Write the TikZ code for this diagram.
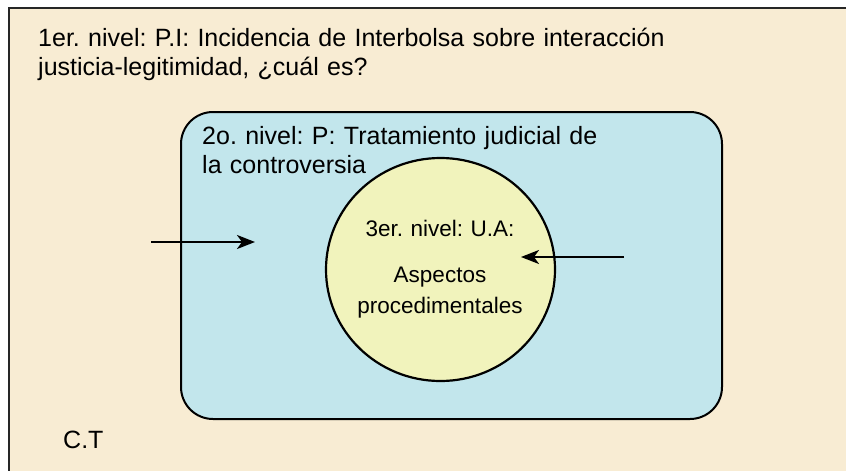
\documentclass[tikz,border=0pt]{standalone}
\usepackage{fontspec}
\setmainfont{Liberation Sans}
\usetikzlibrary{arrows.meta}
\usetikzlibrary{shapes}
\frenchspacing

\definecolor{fondo}{RGB}{248,236,211}
\definecolor{celeste}{RGB}{194,230,236}
\definecolor{amarillo}{RGB}{241,243,188}

\tikzset{
  nivel/.style={inner sep=0pt, anchor=base west, align=left, text width=700pt, font=\fontsize{25pt}{29pt}\selectfont},
  flecha/.style={line width=2.4pt, -{Stealth[length=18pt,width=14pt,inset=5pt]}}
}

\begin{document}
\begin{tikzpicture}[x=1pt,y=-1pt]
\useasboundingbox (0,0) rectangle (846,471);
% niveles
\draw[line width=2.2pt, draw=black!85, fill=fondo] (9,8) rectangle (900,520);
\draw[line width=2pt, rounded corners=32pt, fill=celeste] (181,112) rectangle (722,419);
\node [shape=ellipse, draw, line width=2.2pt, fill=amarillo, minimum width=229pt, minimum height=223pt, inner sep=0pt] (UA) at (440.5,269.5) {};
\node [nivel] (PI) at (38,46) {1er. nivel: P.I: Incidencia de Interbolsa sobre interacción\\justicia-legitimidad, ¿cuál es?};
\node [nivel] (P) at (202,144) {2o. nivel: P: Tratamiento judicial de\\la controversia};
\node [inner sep=0pt, anchor=base, align=center, text width=220pt, font=\fontsize{22.5pt}{31pt}\selectfont] (T) at (440,236) {3er. nivel: U.A:\\[15pt]Aspectos\\procedimentales};
\node [nivel] (CT) at (63,448) {C.T};
% flechas
\coordinate (A1) at (151,242);
\coordinate (A2) at (255,242);
\coordinate (B1) at (624,257);
\coordinate (B2) at (521,257);
\draw[flecha] (A1) -- (A2);
\draw[flecha] (B1) -- (B2);
\end{tikzpicture}
\end{document}
